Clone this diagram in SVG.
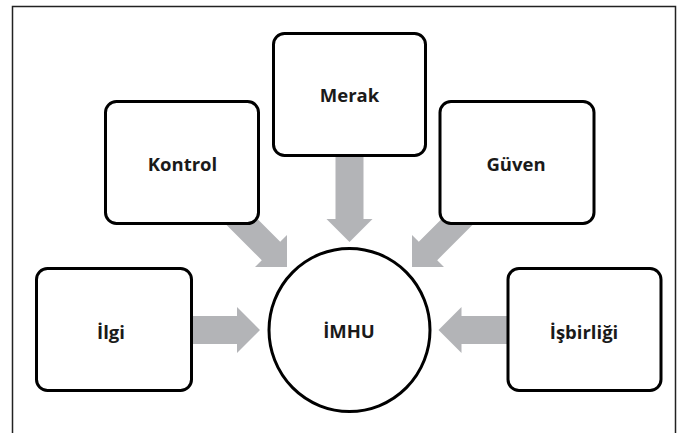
<svg xmlns="http://www.w3.org/2000/svg" width="688" height="433" viewBox="0 0 688 433">
<style>
.box{fill:#fff;stroke:#000;stroke-width:3}
.arrow{fill:#b3b4b7;stroke:none}
.lbl{font-family:"Open Sans","Noto Sans","Liberation Sans",sans-serif;font-weight:700;font-size:18.5px;fill:#1a1a1a;text-anchor:middle}
</style>
<rect width="688" height="433" fill="#fff"/>
<path d="M12.5,433 V6.5 H675.5 V433" fill="none" stroke="#222" stroke-width="1.5"/>
<g id="connectors">
<polygon class="arrow" points="185,316 237,316 237,307 260,330 237,353 237,344 185,344"/>
<polygon class="arrow" points="515,316 461.5,316 461.5,307 438.5,330 461.5,353 461.5,344 515,344"/>
<polygon class="arrow" points="335.5,150 363.5,150 363.5,219 372.5,219 349.5,242 326.5,219 335.5,219"/>
<polygon class="arrow" points="253.4,215 280.2,241.8 287,235 287,267 255,267 261.8,260.2 216.6,215"/>
<polygon class="arrow" points="445.6,215 418.8,241.8 412,235 412,267 444,267 437.2,260.2 482.4,215"/>
</g>
<g id="kontrol"><rect class="box" x="105.5" y="101.5" width="153" height="122" rx="11"/><text class="lbl" x="182.5" y="171">Kontrol</text></g>
<g id="merak"><rect class="box" x="273.5" y="33.5" width="152" height="122" rx="11"/><text class="lbl" x="349.5" y="101.5">Merak</text></g>
<g id="guven"><rect class="box" x="440" y="101.5" width="154" height="122" rx="11"/><text class="lbl" x="516" y="171">Güven</text></g>
<g id="ilgi"><rect class="box" x="36.5" y="268.5" width="155" height="122" rx="11"/><text class="lbl" x="111" y="338.5">İlgi</text></g>
<g id="isbirligi"><rect class="box" x="508" y="268.5" width="153" height="122" rx="11"/><text class="lbl" x="584" y="338.5">İşbirliği</text></g>
<g id="imhu"><ellipse class="box" cx="349.5" cy="330" rx="80.5" ry="81.5"/><text class="lbl" x="349" y="337.5">İMHU</text></g>
</svg>
